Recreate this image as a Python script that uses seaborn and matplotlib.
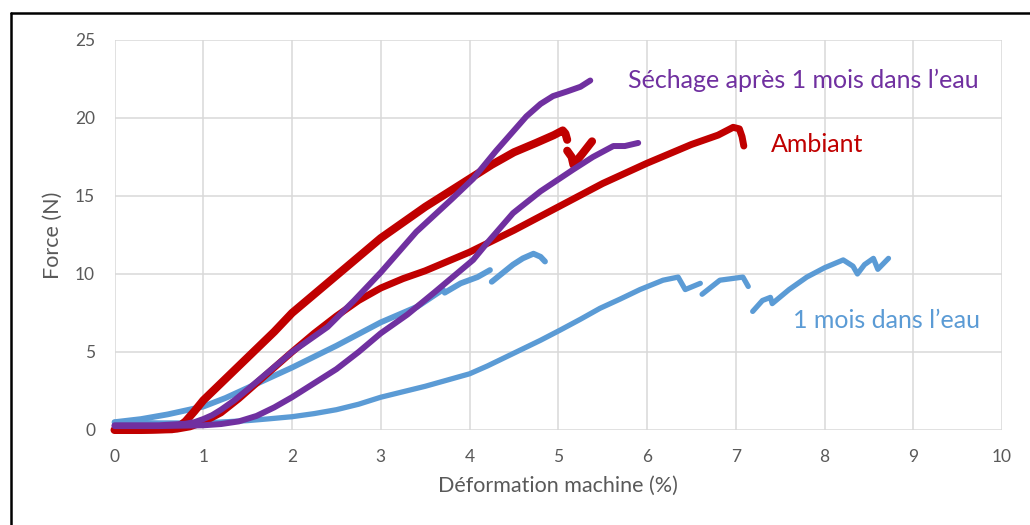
import matplotlib
matplotlib.use("Agg")
import matplotlib.pyplot as plt
from matplotlib.lines import Line2D
import pandas as pd
import seaborn as sns

# --- Tensile curves: force (N) vs machine strain (%) ---
# Ambient, sample A (main branch + short post-drop branch)
amb_a_x = [0, 0.3, 0.65, 0.72, 0.8, 0.9, 1.0, 1.2, 1.4, 1.6, 1.8, 2.0, 2.25, 2.5, 2.75,
           3.0, 3.25, 3.5, 3.75, 4.0, 4.25, 4.5, 4.75, 4.95, 5.05, 5.08, 5.1]
amb_a_y = [0, 0, 0.05, 0.2, 0.55, 1.2, 1.9, 3.0, 4.1, 5.2, 6.3, 7.5, 8.7, 9.9, 11.1,
           12.3, 13.3, 14.3, 15.2, 16.1, 17.0, 17.8, 18.4, 18.9, 19.2, 19.0, 18.6]
amb_a2_x = [5.1, 5.15, 5.17, 5.27, 5.38]
amb_a2_y = [17.9, 17.5, 17.0, 17.7, 18.5]

# Ambient, sample B
amb_b_x = [0, 0.4, 0.7, 0.85, 1.0, 1.2, 1.4, 1.6, 1.8, 2.0, 2.25, 2.5, 2.75, 3.0,
           3.25, 3.5, 3.75, 4.0, 4.5, 5.0, 5.5, 6.0, 6.5, 6.8, 6.97, 7.04, 7.07, 7.09]
amb_b_y = [0, 0, 0.05, 0.2, 0.5, 1.1, 2.0, 3.0, 4.0, 5.0, 6.2, 7.3, 8.3, 9.1,
           9.7, 10.2, 10.8, 11.4, 12.8, 14.3, 15.8, 17.1, 18.3, 18.9, 19.4, 19.3, 18.8, 18.2]

# Dried after 1 month in water, sample A
dry_a_x = [0, 0.5, 0.8, 0.9, 1.0, 1.1, 1.2, 1.35, 1.5, 1.75, 2.0, 2.2, 2.4, 2.7, 3.0,
           3.4, 3.8, 4.04, 4.3, 4.64, 4.8, 4.94, 5.1, 5.25, 5.36]
dry_a_y = [0.3, 0.3, 0.4, 0.5, 0.7, 0.95, 1.3, 1.9, 2.6, 3.8, 5.0, 5.8, 6.6, 8.3, 10.1,
           12.7, 14.8, 16.1, 17.9, 20.1, 20.9, 21.4, 21.7, 22.0, 22.4]

# Dried after 1 month in water, sample B
dry_b_x = [0, 0.5, 1.0, 1.2, 1.4, 1.6, 1.8, 2.0, 2.25, 2.5, 2.75, 3.0, 3.3, 3.6, 4.04,
           4.2, 4.49, 4.8, 5.17, 5.39, 5.62, 5.75, 5.9]
dry_b_y = [0.25, 0.25, 0.3, 0.38, 0.55, 0.9, 1.45, 2.1, 3.0, 3.9, 5.0, 6.2, 7.4, 8.8, 10.9,
           12.0, 13.9, 15.3, 16.7, 17.5, 18.2, 18.2, 18.4]

# 1 month in water, sample A (three branches)
wet_a1_x = [0, 0.3, 0.6, 1.0, 1.25, 1.5, 2.0, 2.5, 3.0, 3.41, 3.7]
wet_a1_y = [0.5, 0.7, 1.0, 1.5, 2.05, 2.7, 4.0, 5.4, 6.9, 7.9, 9.0]
wet_a2_x = [3.72, 3.9, 4.09, 4.23]
wet_a2_y = [8.8, 9.4, 9.8, 10.25]
wet_a3_x = [4.25, 4.49, 4.6, 4.72, 4.8, 4.85]
wet_a3_y = [9.5, 10.6, 11.0, 11.3, 11.1, 10.8]

# 1 month in water, sample B (three branches)
wet_b1_x = [0, 0.5, 1.0, 1.5, 1.75, 2.0, 2.25, 2.5, 2.75, 3.0, 3.25, 3.5, 3.75, 4.0,
            4.2, 4.4, 4.6, 4.8, 5.02, 5.25, 5.47, 5.7, 5.92, 6.18, 6.35, 6.43, 6.6]
wet_b1_y = [0.5, 0.45, 0.45, 0.6, 0.72, 0.85, 1.05, 1.3, 1.65, 2.1, 2.45, 2.8, 3.2, 3.6,
            4.1, 4.65, 5.2, 5.75, 6.4, 7.1, 7.8, 8.4, 9.0, 9.6, 9.8, 9.0, 9.4]
wet_b2_x = [6.62, 6.82, 7.08, 7.14]
wet_b2_y = [8.7, 9.6, 9.8, 9.2]
wet_b3_x = [7.19, 7.3, 7.39, 7.41, 7.6, 7.8, 8.0, 8.21, 8.32, 8.37, 8.45, 8.55, 8.6, 8.72]
wet_b3_y = [7.6, 8.3, 8.5, 8.1, 9.0, 9.8, 10.4, 10.9, 10.5, 10.0, 10.6, 11.0, 10.3, 11.0]

x_ticks = list(range(0, 11))
y_ticks = [0, 5, 10, 15, 20, 25]

RED = "#C00000"
PURPLE = "#7030A0"
BLUE = "#5B9BD5"
GRAY = "#595959"


def frame(branches):
    parts = []
    for i, (xs, ys) in enumerate(branches):
        parts.append(pd.DataFrame({"x": xs, "y": ys, "seg": i}))
    return pd.concat(parts, ignore_index=True)


sns.set_theme(style="white")
plt.rcParams["font.family"] = ["Lato", "DejaVu Sans"]

fig = plt.figure(figsize=(10.30, 5.25), dpi=100)
ax = fig.add_axes([0.1112, 0.181, 0.8617, 0.7429])

# drawing order: water-aged below, ambient, then dried on top
curves = [
    ([(wet_a1_x, wet_a1_y), (wet_a2_x, wet_a2_y), (wet_a3_x, wet_a3_y)], BLUE, 4.2),
    ([(wet_b1_x, wet_b1_y), (wet_b2_x, wet_b2_y), (wet_b3_x, wet_b3_y)], BLUE, 3.8),
    ([(amb_b_x, amb_b_y)], RED, 5.0),
    ([(amb_a_x, amb_a_y), (amb_a2_x, amb_a2_y)], RED, 5.8),
    ([(dry_b_x, dry_b_y)], PURPLE, 4.3),
    ([(dry_a_x, dry_a_y)], PURPLE, 4.3),
]
for branches, color, lw in curves:
    df = frame(branches)
    sns.lineplot(data=df, x="x", y="y", units="seg", estimator=None, sort=False,
                 color=color, linewidth=lw, solid_capstyle="round",
                 solid_joinstyle="round", ax=ax, legend=False)
for ln in ax.get_lines():
    ln.set_clip_on(False)

ax.set_xlim(0, 10)
ax.set_ylim(0, 25)
ax.set_xticks(x_ticks)
ax.set_yticks(y_ticks)
ax.grid(True, color="#D9D9D9", linewidth=1.1)
ax.set_axisbelow(True)
for s in ax.spines.values():
    s.set_visible(False)
ax.tick_params(axis="both", length=0, labelsize=12.5, labelcolor=GRAY)
ax.tick_params(axis="x", pad=14)
ax.tick_params(axis="y", pad=14)
ax.set_xlabel("Déformation machine (%)", fontsize=15.5, color=GRAY)
ax.set_ylabel("Force (N)", fontsize=15.5, color=GRAY)
ax.xaxis.set_label_coords(0.5, -0.117)
ax.yaxis.set_label_coords(-0.058, 0.5)

ax.text(5.79, 22.4, "Séchage après 1 mois dans l’eau", color=PURPLE,
        fontsize=18, va="center", ha="left")
ax.text(7.39, 18.3, "Ambiant", color=RED, fontsize=18, va="center", ha="left")
ax.text(7.64, 7.0, "1 mois dans l’eau", color=BLUE, fontsize=18,
        va="center", ha="left")

# outer black frame (left and top edges)
fig.add_artist(Line2D([0.0103, 0.0103], [0.0, 0.975], color="black",
                      linewidth=1.8, transform=fig.transFigure))
fig.add_artist(Line2D([0.0103, 1.0], [0.975, 0.975], color="black",
                      linewidth=1.8, transform=fig.transFigure))

fig.savefig("out.png", dpi=100)
